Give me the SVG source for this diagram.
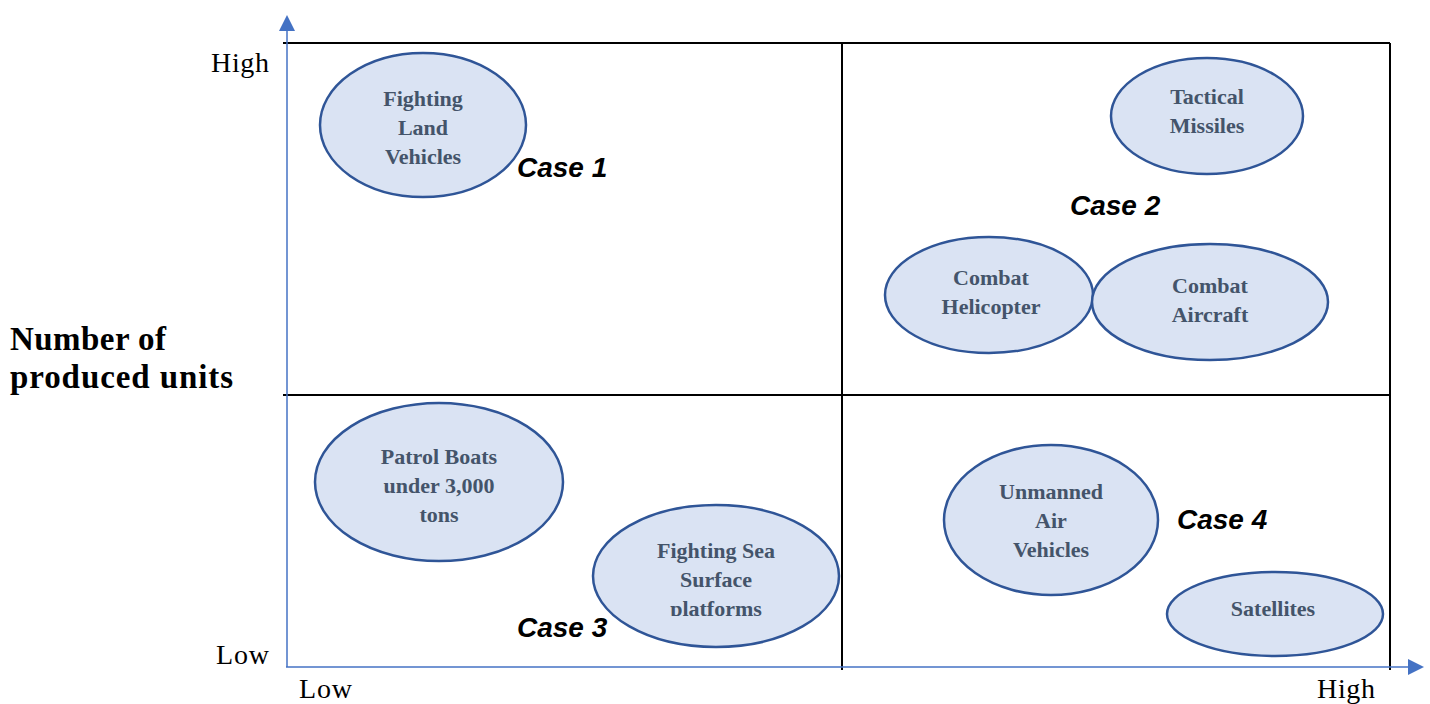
<svg xmlns="http://www.w3.org/2000/svg" width="1430" height="704" viewBox="0 0 1430 704">
<style>
.ax{stroke:#4472c4;stroke-width:1.5;fill:none}
.grid{stroke:#000;stroke-width:2;fill:none}
.el{fill:#dae3f3;stroke:#2f5597;stroke-width:2.5}
.nt{font-family:"Liberation Serif","DejaVu Serif",serif;font-weight:bold;font-size:22px;fill:#44546a;text-anchor:middle}
.case{font-family:"Liberation Sans","DejaVu Sans",sans-serif;font-weight:bold;font-style:italic;font-size:28px;fill:#000}
.lbl{font-family:"Liberation Serif","DejaVu Serif",serif;font-size:28px;fill:#000}
.title{font-family:"Liberation Serif","DejaVu Serif",serif;font-weight:bold;font-size:33px;fill:#000}
</style>
<defs>
<clipPath id="clipSea"><rect x="580" y="490" width="280" height="126"/></clipPath>
</defs>
<rect width="1430" height="704" fill="#fff"/>
<g id="grid">
<line class="grid" x1="283" y1="43" x2="1390" y2="43"/>
<line class="grid" x1="1390" y1="43" x2="1390" y2="670"/>
<line class="grid" x1="842" y1="43" x2="842" y2="670"/>
<line class="grid" x1="283" y1="395" x2="1390" y2="395"/>
</g>
<g id="connectors">
<line class="ax" x1="287" y1="667" x2="287" y2="30"/>
<path d="M287,15 L295,31 L279,31 Z" fill="#4472c4"/>
<line class="ax" x1="286" y1="667" x2="1408" y2="667"/>
<path d="M1424,667 L1408,659 L1408,675 Z" fill="#4472c4"/>
</g>
<g id="axis-labels">
<text class="lbl" x="211" y="72" textLength="58">High</text>
<text class="lbl" x="216" y="664" textLength="53">Low</text>
<text class="lbl" x="299" y="698" textLength="53">Low</text>
<text class="lbl" x="1317" y="698" textLength="58">High</text>
<text class="title" x="10" y="350" textLength="156">Number of</text>
<text class="title" x="10" y="388" textLength="223">produced units</text>
</g>
<g id="cases">
<text class="case" x="517" y="177">Case 1</text>
<text class="case" x="1070" y="215">Case 2</text>
<text class="case" x="517" y="637">Case 3</text>
<text class="case" x="1177" y="529">Case 4</text>
</g>
<g id="fighting-land-vehicles">
<ellipse class="el" cx="423" cy="125" rx="103" ry="72"/>
<text class="nt" x="423" y="106">Fighting</text>
<text class="nt" x="423" y="135">Land</text>
<text class="nt" x="423" y="164">Vehicles</text>
</g>
<g id="tactical-missiles">
<ellipse class="el" cx="1207" cy="116" rx="96" ry="58"/>
<text class="nt" x="1207" y="104">Tactical</text>
<text class="nt" x="1207" y="133">Missiles</text>
</g>
<g id="combat-helicopter">
<ellipse class="el" cx="989" cy="295" rx="104" ry="58"/>
<text class="nt" x="991" y="285">Combat</text>
<text class="nt" x="991" y="314">Helicopter</text>
</g>
<g id="combat-aircraft">
<ellipse class="el" cx="1210" cy="302" rx="118" ry="58"/>
<text class="nt" x="1210" y="293">Combat</text>
<text class="nt" x="1210" y="322">Aircraft</text>
</g>
<g id="patrol-boats">
<ellipse class="el" cx="439" cy="482" rx="124" ry="79"/>
<text class="nt" x="439" y="464">Patrol Boats</text>
<text class="nt" x="439" y="493">under 3,000</text>
<text class="nt" x="439" y="522">tons</text>
</g>
<g id="fighting-sea-surface">
<ellipse class="el" cx="716" cy="576" rx="123" ry="71"/>
<g clip-path="url(#clipSea)">
<text class="nt" x="716" y="558">Fighting Sea</text>
<text class="nt" x="716" y="587">Surface</text>
<text class="nt" x="716" y="616">platforms</text>
</g>
</g>
<g id="unmanned-air-vehicles">
<ellipse class="el" cx="1051" cy="520" rx="107" ry="75"/>
<text class="nt" x="1051" y="499">Unmanned</text>
<text class="nt" x="1051" y="528">Air</text>
<text class="nt" x="1051" y="557">Vehicles</text>
</g>
<g id="satellites">
<ellipse class="el" cx="1275" cy="614" rx="108" ry="42"/>
<text class="nt" x="1273" y="616">Satellites</text>
</g>
</svg>
